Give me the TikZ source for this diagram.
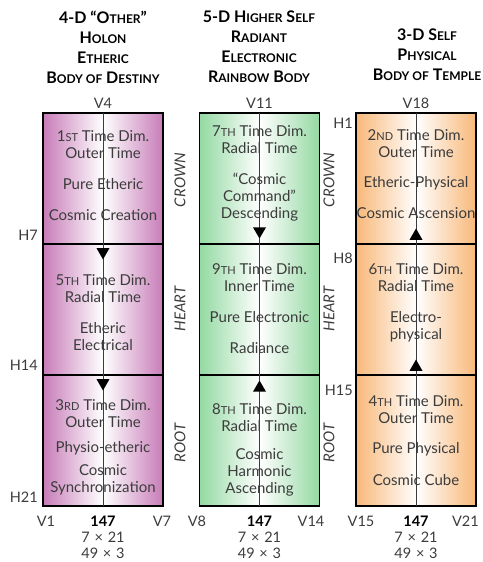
\documentclass[tikz,border=0pt]{standalone}
\usepackage{fontspec}
\setmainfont{Lato}
\usetikzlibrary{shapes.geometric, positioning}
\usepackage{xcolor}

\definecolor{etheric}{HTML}{C77CB8}
\definecolor{radiant}{HTML}{94D9A2}
\definecolor{physical}{HTML}{F8B878}
\definecolor{ink}{HTML}{3C3C3C}

\newcommand{\smc}[1]{{\fontsize{11}{11}\selectfont #1}}
\newcommand{\tsc}[1]{{\fontsize{12}{12}\selectfont #1}}

\begin{document}
\begin{tikzpicture}[x=1pt, y=-1pt,
  cell/.style={rectangle, draw, line width=1.6pt, minimum width=120pt,
               minimum height=131pt, inner sep=0pt, outer sep=0pt,
               left color=#1, right color=#1, middle color=white},
  txt/.style={align=center, text=ink, font=\fontsize{15}{17}\selectfont},
  ttl/.style={align=center, font=\bfseries\fontsize{16}{20}\selectfont},
  lbl/.style={text=ink, font=\fontsize{14.5}{14.5}\selectfont, inner sep=1pt},
  side/.style={rotate=90, text=ink, font=\itshape\fontsize{15}{15}\selectfont},
  mid/.style={draw=ink, line width=0.7pt},
  dn/.style={regular polygon, regular polygon sides=3, shape border rotate=180,
             fill=black, inner sep=0pt, minimum size=15pt},
  upw/.style={dn, shape border rotate=0},
]
  \useasboundingbox (0,0) rectangle (482,562);

  % titles
  \node[ttl] (h1) at (103,47) {4-D “O\tsc{THER}”\\H\tsc{OLON}\\E\tsc{THERIC}\\B\tsc{ODY OF} D\tsc{ESTINY}};
  \node[ttl] (h2) at (259,47) {5-D H\tsc{IGHER} S\tsc{ELF}\\R\tsc{ADIANT}\\E\tsc{LECTRONIC}\\R\tsc{AINBOW} B\tsc{ODY}};
  \node[ttl] (h3) at (427,55) {3-D S\tsc{ELF}\\P\tsc{HYSICAL}\\B\tsc{ODY OF} T\tsc{EMPLE}};

  % columns
  \node[cell=etheric] (e1) at (103,178.5) {};
  \node[cell=etheric, below=0pt of e1] (e2) {};
  \node[cell=etheric, below=0pt of e2] (e3) {};

  \node[cell=radiant] (r1) at (259.5,178.5) {};
  \node[cell=radiant, below=0pt of r1] (r2) {};
  \node[cell=radiant, below=0pt of r2] (r3) {};

  \node[cell=physical] (p1) at (416,178.5) {};
  \node[cell=physical, below=0pt of p1] (p2) {};
  \node[cell=physical, below=0pt of p2] (p3) {};

  \draw[mid] (e1.north) -- (e3.south);
  \draw[mid] (r1.north) -- (r3.south);
  \draw[mid] (p1.north) -- (p3.south);

  \node[dn, below=4pt of e2.north] (ae1) {};
  \node[dn, below=4pt of e3.north] (ae2) {};
  \node[dn, above=5pt of r1.south] (ar1) {};
  \node[upw, below=5pt of r3.north] (ar2) {};
  \node[upw, above=4pt of p1.south] (ap1) {};
  \node[upw, above=4pt of p2.south] (ap2) {};

  % cell texts
  \node[txt] (te1) at (103,176) {1\smc{ST} Time Dim.\\Outer Time\\[14pt]Pure Etheric\\[14pt]Cosmic Creation};
  \node[txt] (te2) at (103,313) {5\smc{TH} Time Dim.\\Radial Time\\[14pt]Etheric\\Electrical};
  \node[txt] (te3) at (103,447) {3\smc{RD} Time Dim.\\Outer Time\\[8pt]Physio-etheric\\[6pt]Cosmic\\Synchronization};

  \node[txt] (tr1) at (259.5,173) {7\smc{TH} Time Dim.\\Radial Time\\[14pt]“Cosmic\\Command”\\Descending};
  \node[txt] (tr2) at (259.5,309) {9\smc{TH} Time Dim.\\Inner Time\\[14pt]Pure Electronic\\[14pt]Radiance};
  \node[txt] (tr3) at (259.5,450) {8\smc{TH} Time Dim.\\Radial Time\\[11pt]Cosmic\\Harmonic\\Ascending};

  \node[txt] (tp1) at (416,174) {2\smc{ND} Time Dim.\\Outer Time\\[13pt]Etheric-Physical\\[14pt]Cosmic Ascension};
  \node[txt] (tp2) at (416,302.5) {6\smc{TH} Time Dim.\\Radial Time\\[14pt]Electro-\\physical};
  \node[txt] (tp3) at (416,441) {4\smc{TH} Time Dim.\\Outer Time\\[13pt]Pure Physical\\[15pt]Cosmic Cube};

  % side labels
  \node[side] (s1) at (180,180) {CROWN};
  \node[side] (s2) at (180,309) {HEART};
  \node[side] (s3) at (180,443) {ROOT};
  \node[side] (s4) at (329,180) {CROWN};
  \node[side] (s5) at (329,309) {HEART};
  \node[side] (s6) at (329,443) {ROOT};

  % H and V marks
  \node[lbl, anchor=east] (h7) at (39,235) {H7};
  \node[lbl, anchor=east] (h14) at (39,365) {H14};
  \node[lbl, anchor=east] (h21) at (39,497) {H21};
  \node[lbl, anchor=east] (hh1) at (354,123) {H1};
  \node[lbl, anchor=east] (h8) at (354,258) {H8};
  \node[lbl, anchor=east] (h15) at (354,390) {H15};

  \node[lbl, above=3pt of e1] (v4) {V4};
  \node[lbl, above=3pt of r1] (v11) {V11};
  \node[lbl, above=3pt of p1] (v18) {V18};

  \node[lbl] (v1) at (46,521) {V1};
  \node[lbl] (v7) at (162,521) {V7};
  \node[lbl] (v8) at (197,521) {V8};
  \node[lbl] (v14) at (311,521) {V14};
  \node[lbl] (v15) at (361,521) {V15};
  \node[lbl, anchor=east] (v21) at (480,521) {V21};

  \foreach \c/\x in {e/103, r/259.5, p/416} {
    \node[lbl, font=\bfseries\fontsize{14.5}{14.5}\selectfont, text=black] (n\c) at (\x,521) {147};
    \node[lbl] (m\c) at (\x,537) {7\,\,×\,\,21};
    \node[lbl] (k\c) at (\x,553) {49\,\,×\,\,3};
  }
\end{tikzpicture}
\end{document}
